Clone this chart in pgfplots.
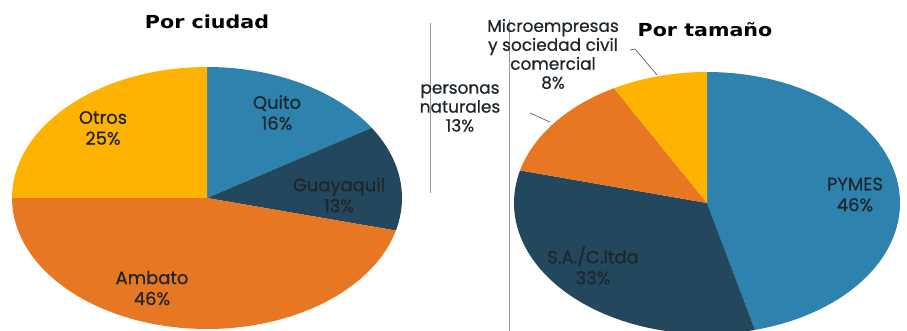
\documentclass[border=0pt]{standalone}
\usepackage{pgfplots}
\pgfplotsset{compat=1.18}
\usepackage{fontspec}
\setmainfont[FakeBold=0.6]{Poppins}
\newfontfamily\tit[FakeStretch=1.15]{DejaVu Sans}
\definecolor{cblue}{HTML}{2D83AE}
\definecolor{cnavy}{HTML}{23475C}
\definecolor{corange}{HTML}{E77722}
\definecolor{cyellow}{HTML}{FDB300}
\definecolor{ctext}{HTML}{1E262C}
\begin{document}
\begin{tikzpicture}
\useasboundingbox (0,0) rectangle (907bp,331bp);
\begin{axis}[at={(0,0)}, anchor=south west, width=907bp, height=331bp, scale only axis,
  xmin=0, xmax=907, ymin=0, ymax=331, hide axis, clip=true]
% ---- Por ciudad: Quito 16, Guayaquil 13, Ambato 46, Otros 25 (clockwise from top)
\addplot[fill=cblue, draw=none, domain=32.4:90, samples=50, variable=\t] ({207+195*cos(t)},{133+131*sin(t)}) -- (axis cs:207,133) -- cycle;
\addplot[fill=cnavy, draw=none, domain=-14.4:32.4, samples=50, variable=\t] ({207+195*cos(t)},{133+131*sin(t)}) -- (axis cs:207,133) -- cycle;
\addplot[fill=corange, draw=none, domain=-180:-14.4, samples=120, variable=\t] ({207+195*cos(t)},{133+131*sin(t)}) -- (axis cs:207,133) -- cycle;
\addplot[fill=cyellow, draw=none, domain=90:180, samples=60, variable=\t] ({207+195*cos(t)},{133+131*sin(t)}) -- (axis cs:207,133) -- cycle;
% ---- Por tamano: PYMES 46, S.A./C.ltda 33, personas naturales 13, Microempresas 8
\addplot[fill=cblue, draw=none, domain=-75.6:90, samples=120, variable=\t] ({707+193*cos(t)},{128+131*sin(t)}) -- (axis cs:707,128) -- cycle;
\addplot[fill=cnavy, draw=none, domain=-194.4:-75.6, samples=100, variable=\t] ({707+193*cos(t)},{128+131*sin(t)}) -- (axis cs:707,128) -- cycle;
\addplot[fill=corange, draw=none, domain=-241.2:-194.4, samples=50, variable=\t] ({707+193*cos(t)},{128+131*sin(t)}) -- (axis cs:707,128) -- cycle;
\addplot[fill=cyellow, draw=none, domain=-270:-241.2, samples=40, variable=\t] ({707+193*cos(t)},{128+131*sin(t)}) -- (axis cs:707,128) -- cycle;
% separators and leaders
\addplot[gray!80, line width=0.6pt] coordinates {(430,308) (430,138)};
\addplot[gray!80, line width=0.6pt] coordinates {(509,312) (509,0)};
\addplot[gray!60!black, line width=0.6pt] coordinates {(530,218) (550,209)};
\addplot[gray!60!black, line width=0.6pt] coordinates {(630,281) (635,282) (657,256)};
% titles
\node[font=\tit\bfseries\fontsize{18}{21}\selectfont] at (axis cs:207,309) {Por ciudad};
\node[font=\tit\bfseries\fontsize{18}{21}\selectfont] at (axis cs:705,301) {Por tamaño};
% labels
\begin{scope}[every node/.style={align=center, text=ctext, font=\fontsize{18}{21}\selectfont}]
\node at (axis cs:277,218.5) {Quito\\16\%};
\node at (axis cs:339,136) {Guayaquil\\13\%};
\node at (axis cs:103,203) {Otros\\25\%};
\node at (axis cs:152,43) {Ambato\\46\%};
\node at (axis cs:855,136.5) {PYMES\\46\%};
\node at (axis cs:593,65.5) {S.A./C.ltda\\33\%};
\end{scope}
\begin{scope}[every node/.style={align=center, text=ctext, font=\fontsize{17}{19}\selectfont}]
\node at (axis cs:460,223) {personas\\naturales\\13\%};
\node at (axis cs:553,277) {Microempresas\\y sociedad civil\\comercial\\8\%};
\end{scope}
\end{axis}
\end{tikzpicture}
\end{document}
